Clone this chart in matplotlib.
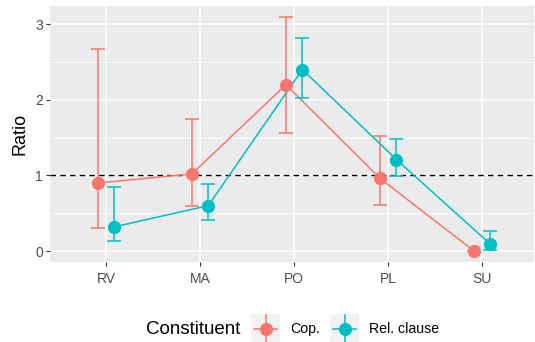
import matplotlib
matplotlib.use("Agg")
import matplotlib.pyplot as plt
from matplotlib.patches import Rectangle
import numpy as np

plt.rcParams["font.family"] = ["Liberation Sans", "DejaVu Sans"]

categories = ["RV", "MA", "PO", "PL", "SU"]
groups = ["Cop.", "Rel. clause"]
colors = {"Cop.": "#F8766D", "Rel. clause": "#00BFC4"}

cop_ratio = [0.90, 1.02, 2.20, 0.96, 0.00]
cop_low = [0.30, 0.59, 1.555, 0.61, 0.00]
cop_high = [2.67, 1.75, 3.09, 1.515, 0.00]

rel_ratio = [0.32, 0.60, 2.40, 1.21, 0.09]
rel_low = [0.13, 0.41, 2.03, 0.995, 0.02]
rel_high = [0.85, 0.885, 2.82, 1.48, 0.26]

series = {
    "Cop.": (cop_ratio, cop_low, cop_high),
    "Rel. clause": (rel_ratio, rel_low, rel_high),
}
dodge = {"Cop.": -0.087, "Rel. clause": 0.087}

W, H = 535, 342
fig = plt.figure(figsize=(W / 100, H / 100), dpi=100)
px = lambda x0, y0, w, h: [x0 / W, 1 - (y0 + h) / H, w / W, h / H]
ax = fig.add_axes(px(50, 6, 484, 256))
ax.set_facecolor("#EBEBEB")
for s in ax.spines.values():
    s.set_visible(False)

xpos = np.arange(1, len(categories) + 1)
ax.set_xlim(0.404, 5.55)
ax.set_ylim(-0.145, 3.24)

# panel grid
for y in [0.5, 1.5, 2.5]:
    ax.axhline(y, color="white", lw=0.55, zorder=0)
for y in [0, 1, 2, 3]:
    ax.axhline(y, color="white", lw=1.1, zorder=0)
for x in xpos:
    ax.axvline(x, color="white", lw=1.1, zorder=0)

# reference line at ratio 1
ax.axhline(1, color="black", lw=1.0, ls=(0, (4, 3)), zorder=1)

for g in groups:
    r, lo, hi = series[g]
    xs = xpos + dodge[g]
    c = colors[g]
    ax.plot(xs, r, color=c, lw=1.1, zorder=2)
    ax.errorbar(xs, r, yerr=[np.array(r) - np.array(lo), np.array(hi) - np.array(r)],
                fmt="none", ecolor=c, elinewidth=1.1, capsize=5.2, capthick=1.1, zorder=2)
    ax.plot(xs, r, "o", color=c, ms=9.5, mec="none", zorder=3)

ax.set_xticks(xpos)
ax.set_xticklabels(categories)
ax.set_yticks([0, 1, 2, 3])
ax.tick_params(axis="both", colors="#333333", length=3, width=0.8, labelsize=10,
               labelcolor="#4D4D4D", pad=2)
ax.tick_params(axis="x", pad=4)
ax.set_ylabel("Ratio", fontsize=13, color="black", labelpad=5)

# legend along the bottom
fig.text(146 / W, 1 - 329 / H, "Constituent", fontsize=13.5, va="center", ha="left")
for g, x0, tx in [("Cop.", 251, 290), ("Rel. clause", 330, 369)]:
    kax = fig.add_axes(px(x0, 314, 29, 29))
    kax.set_xlim(0, 1)
    kax.set_ylim(0, 1)
    kax.axis("off")
    kax.add_patch(Rectangle((0, 0), 1, 1, color="#F2F2F2", transform=kax.transAxes))
    c = colors[g]
    kax.plot([0.1, 0.9], [0.5, 0.5], color=c, lw=1.1)
    kax.plot([0.5, 0.5], [0.05, 0.95], color=c, lw=1.1)
    kax.plot([0.5], [0.5], "o", color=c, ms=9.5, mec="none")
    fig.text(tx / W, 1 - 329 / H, g, fontsize=10.2, va="center", ha="left")

fig.savefig("out.png", dpi=100)
